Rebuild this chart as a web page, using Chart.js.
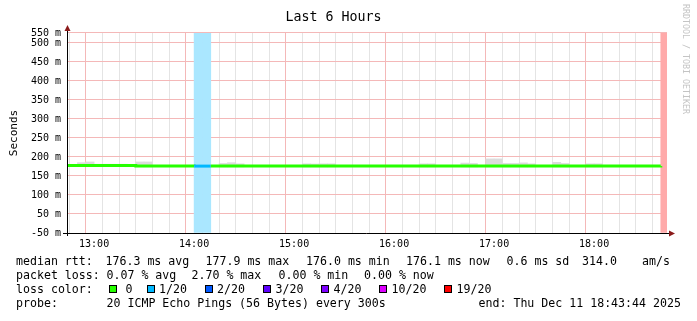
<!DOCTYPE html>
<html lang="en">
<head>
  <meta charset="UTF-8">
  <title>Last 6 Hours</title>
  <script src="https://cdn.jsdelivr.net/npm/chart.js@4.4.1/dist/chart.umd.min.js"></script>
  <style>
    body { margin: 0; background: #fff; }
    #wrap { position: relative; width: 697px; height: 321px; font-family: 'DejaVu Sans Mono', monospace; color: #000; }
    #wrap canvas { position: absolute; left: 0; top: 0; }
    .row { position: absolute; left: 0; width: 697px; height: 14px; line-height: 14px; font-size: 11.6px; white-space: pre; }
    .row span { position: absolute; top: 0; }
    .row i { position: absolute; top: 3px; width: 6px; height: 6px; border: 1px solid #000; }
    #mark { position: absolute; left: 681px; top: 4px; writing-mode: vertical-rl; font-size: 8.3px; color: #c4c4c4; }
  </style>
</head>
<body>
  <div id="wrap">
    <canvas id="smokeChart" width="697" height="321"></canvas>
    <div id="mark">RRDTOOL / TOBI OETIKER</div>
    <div class="row" style="top:254px">
      <span style="left:16px">median rtt:</span>
      <span style="left:105.5px">176.3 ms avg</span>
      <span style="left:205.5px">177.9 ms max</span>
      <span style="left:306px">176.0 ms min</span>
      <span style="left:406px">176.1 ms now</span>
      <span style="left:506.5px">0.6 ms sd</span>
      <span style="left:582px">314.0</span>
      <span style="left:642px">am/s</span>
    </div>
    <div class="row" style="top:268px">
      <span style="left:16px">packet loss:</span>
      <span style="left:106.5px">0.07 % avg</span>
      <span style="left:191.5px">2.70 % max</span>
      <span style="left:278.5px">0.00 % min</span>
      <span style="left:364px">0.00 % now</span>
    </div>
    <div class="row" id="lossRow" style="top:282px">
      <span style="left:16px">loss color:</span>
    </div>
    <div class="row" style="top:296px">
      <span style="left:16px">probe:</span>
      <span style="left:106.5px">20 ICMP Echo Pings (56 Bytes) every 300s</span>
      <span style="left:478.5px">end: Thu Dec 11 18:43:44 2025</span>
    </div>
  </div>

  <script>
    // --- datos ---
    const firstSlot = '12:40';   // fin del primer paso de 5 minutos
    const slotMinutes = 5;
    const graphEnd = '18:43:44';

    // mediana rtt (ms), un valor por paso de 5 min
    const medianRtt = [
      177.9, 177.9, 177.9, 177.9,                                                          // 12:40 - 12:55
      177.9, 177.9, 177.9, 177.9, 177.9, 176.2, 176.2, 176.1, 176.1, 176.0, 176.1, 176.1,  // 13:00 - 13:55
      176.0, 176.0, 176.0, 176.1, 176.1, 176.2, 176.1, 176.0, 176.0, 176.1, 176.1, 176.0,  // 14:00 - 14:55
      176.0, 176.1, 176.1, 176.1, 176.1, 176.1, 176.0, 176.0, 176.1, 176.0, 176.0, 176.1,  // 15:00 - 15:55
      176.0, 176.0, 176.1, 176.1, 176.1, 176.1, 176.0, 176.1, 176.1, 176.2, 176.1, 176.1,  // 16:00 - 16:55
      176.3, 176.3, 176.1, 176.1, 176.2, 176.1, 176.0, 176.1, 176.2, 176.1, 176.0, 176.0,  // 17:00 - 17:55
      176.1, 176.1, 176.0, 176.0, 176.0, 176.1, 176.0, 176.0, 176.1, null                  // 18:00 - 18:45
    ];

    // humo (dispersion de los pings), solo donde se ve
    const smokeSlots = ['12:55', '13:00', '13:05', '13:10', '13:15', '13:20', '13:30', '13:35',
                        '14:20', '14:25', '14:30', '15:10', '15:15', '15:20', '15:25', '16:20', '16:25',
                        '16:45', '16:50', '17:00', '17:05', '17:10', '17:15', '17:20', '17:25',
                        '17:40', '17:45', '18:00', '18:05'];
    const smokeHigh = [185, 187, 181, 181, 181, 181, 187, 187,
                       183, 185, 182, 182, 181.5, 182, 182, 182, 182,
                       184, 183, 195, 195, 183, 183, 184.5, 182,
                       186, 183, 182, 182];
    const smokeLow = [176, 176, 176, 176, 176, 176, 174, 174,
                      174, 174, 174, 174, 174, 174, 174, 174, 174,
                      174, 174, 174, 174, 174, 174, 174, 174,
                      174, 174, 174, 174];

    // pasos con perdida de paquetes (pings perdidos de 20)
    const lossSlots = ['14:05', '14:10', '18:45'];
    const lossPings = [1, 1, 19];

    // leyenda de colores de perdida
    const lossSteps = [0, 1, 2, 3, 4, 10, 19];
    const lossLabels = ['0', '1/20', '2/20', '3/20', '4/20', '10/20', '19/20'];
    const lossColors = ['#26ff00', '#00b8ff', '#0059ff', '#5e00ff', '#7e00ff', '#dd00ff', '#ff0000'];

    // eje y
    const yTicks = [0, 50, 100, 150, 200, 250, 300, 350, 400, 450, 500];
    const yTop = 526.3;  // el borde superior lleva la etiqueta "550 m"
    const yTopLabel = '550 m';
    const yZeroLabel = '-50 m';

    // --- utilidades ---
    function toMin(t) {
      const p = t.split(':').map(Number);
      return p[0] * 60 + p[1] + (p[2] || 0) / 60;
    }
    function lossColor(n) {
      let c = lossColors[0];
      lossSteps.forEach((s, i) => { if (n >= s) c = lossColors[i]; });
      return c;
    }
    function lighten(hex) {
      const v = [1, 3, 5].map(i => parseInt(hex.substr(i, 2), 16));
      return 'rgb(' + v.map(x => Math.round(x / 3 + 170)).join(',') + ')';
    }
    function lossAt(t) {
      const i = lossSlots.findIndex(s => toMin(s) === t);
      return i < 0 ? 0 : lossPings[i];
    }

    const t0 = toMin(firstSlot);
    const xMax = toMin(graphEnd);
    const xMin = xMax - 360;
    const mono = "'DejaVu Sans Mono', monospace";

    // leyenda "loss color"
    const boxX = [109, 146.5, 204.5, 263, 321, 379, 444];
    const textX = [125.5, 159, 217, 275.5, 333.5, 391.5, 456.5];
    const lossRow = document.getElementById('lossRow');
    lossLabels.forEach((lab, i) => {
      const b = document.createElement('i');
      b.style.left = boxX[i] + 'px';
      b.style.background = lossColors[i];
      lossRow.appendChild(b);
      const s = document.createElement('span');
      s.style.left = textX[i] + 'px';
      s.textContent = lab;
      lossRow.appendChild(s);
    });

    // ejes con flechas estilo rrdtool
    const axisArrows = {
      id: 'axisArrows',
      afterDraw(chart) {
        const { ctx, chartArea: a } = chart;
        ctx.save();
        ctx.strokeStyle = '#000';
        ctx.lineWidth = 1;
        ctx.beginPath();
        ctx.moveTo(a.left - 4, a.bottom + 0.5);
        ctx.lineTo(a.right + 3, a.bottom + 0.5);
        ctx.moveTo(a.left + 0.5, a.bottom + 3);
        ctx.lineTo(a.left + 0.5, a.top - 4);
        ctx.stroke();
        ctx.fillStyle = '#8b1a1a';
        ctx.beginPath();
        ctx.moveTo(a.left + 0.5, a.top - 8);
        ctx.lineTo(a.left - 2.5, a.top - 2);
        ctx.lineTo(a.left + 3.5, a.top - 2);
        ctx.fill();
        ctx.beginPath();
        ctx.moveTo(a.right + 8, a.bottom + 0.5);
        ctx.lineTo(a.right + 2, a.bottom - 2.5);
        ctx.lineTo(a.right + 2, a.bottom + 3.5);
        ctx.fill();
        ctx.restore();
      }
    };

    const xTickValues = [];
    for (let m = 770; m <= xMax; m += 10) xTickValues.push(m);

    new Chart(document.getElementById('smokeChart'), {
      type: 'line',
      data: {
        datasets: [
          {
            type: 'line',
            data: medianRtt.map((v, i) => ({ x: t0 + i * slotMinutes, y: v })),
            borderColor: lossColors[0],
            borderWidth: 3,
            borderCapStyle: 'butt',
            pointRadius: 0,
            stepped: 'before',
            spanGaps: false,
            segment: {
              borderColor: c => lossColor(lossAt(t0 + c.p1DataIndex * slotMinutes))
            },
            order: 0
          },
          {
            type: 'bar',
            data: smokeSlots.map((s, i) => ({ x: toMin(s) - slotMinutes / 2, y: [smokeLow[i], smokeHigh[i]] })),
            backgroundColor: '#dcdcdc',
            borderWidth: 0,
            grouped: false,
            categoryPercentage: 1,
            barPercentage: 1,
            order: 1
          },
          {
            type: 'bar',
            data: lossSlots.map(s => ({ x: toMin(s) - slotMinutes / 2, y: [0, yTop] })),
            backgroundColor: lossPings.map(n => lighten(lossColor(n))),
            borderWidth: 0,
            grouped: false,
            categoryPercentage: 1,
            barPercentage: 1,
            order: 2
          }
        ]
      },
      options: {
        responsive: false,
        animation: false,
        devicePixelRatio: 1,
        layout: { padding: { left: 0, right: 30, top: 0, bottom: 0 } },
        plugins: {
          legend: { display: false },
          tooltip: { enabled: false },
          title: {
            display: true,
            text: 'Last 6 Hours',
            color: '#000',
            font: { family: mono, size: 13.3, weight: 'normal', lineHeight: 1.2 },
            padding: { top: 10, bottom: 7 }
          }
        },
        scales: {
          x: {
            type: 'linear',
            min: xMin,
            max: xMax,
            offset: false,
            border: { display: false },
            grid: {
              drawTicks: false,
              color: c => (c.tick && c.tick.value % 60 === 0) ? '#f4b8b8' : '#e4e4e4'
            },
            afterBuildTicks: s => { s.ticks = xTickValues.map(v => ({ value: v })); },
            afterFit: s => { s.height = 88; },
            ticks: {
              autoSkip: false,
              maxRotation: 0,
              padding: 5,
              color: '#000',
              font: { family: mono, size: 10 },
              callback: v => v % 60 === 0 ? String(v / 60).padStart(2, '0') + ':00' : ''
            }
          },
          y: {
            min: 0,
            max: yTop,
            border: { display: false },
            grid: { drawTicks: false, color: '#f4b8b8' },
            afterBuildTicks: s => { s.ticks = yTicks.concat([yTop]).map(v => ({ value: v })); },
            afterFit: s => { s.width = 67; },
            ticks: {
              padding: 6,
              color: '#000',
              font: { family: mono, size: 10 },
              callback: v => v === yTop ? yTopLabel : (v === 0 ? yZeroLabel : v + ' m')
            },
            title: {
              display: true,
              text: 'Seconds',
              color: '#000',
              font: { family: mono, size: 11 },
              padding: { top: 8, bottom: 0 }
            }
          }
        }
      },
      plugins: [axisArrows]
    });
  </script>
</body>
</html>
